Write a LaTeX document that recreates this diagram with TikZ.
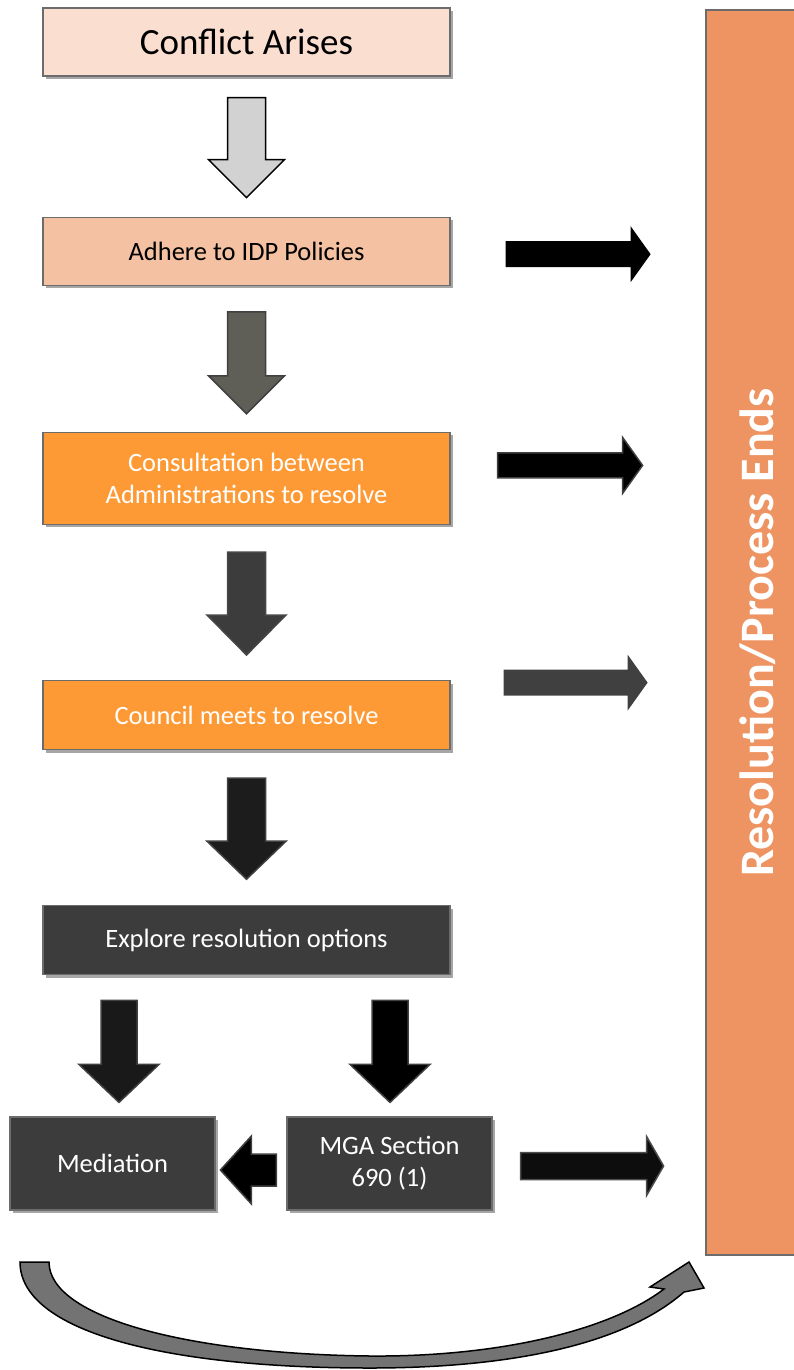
\documentclass[tikz,border=0pt]{standalone}
\usepackage{fontspec}
\setmainfont{Carlito}
\usetikzlibrary{positioning, calc, shadows}

\definecolor{conflictfill}{HTML}{FADFD0}
\definecolor{idpfill}{HTML}{F4C2A2}
\definecolor{orangefill}{HTML}{FD9A35}
\definecolor{darkfill}{HTML}{3C3C3C}
\definecolor{slatefill}{HTML}{5F5F58}
\definecolor{endfill}{HTML}{EE9462}
\definecolor{curvefill}{HTML}{737373}

\begin{document}
\begin{tikzpicture}[
    x=1pt, y=-1pt,
    stepbox/.style={rectangle, draw=gray!85!black, line width=1.2pt, align=center, font=\fontsize{26.5}{32}\selectfont, minimum width=407pt, minimum height=68pt, inner sep=0pt, drop shadow={shadow xshift=3pt, shadow yshift=-3pt, fill=gray, opacity=0.7}},
    darkbox/.style={stepbox, fill=darkfill, text=white},
    endbox/.style={rectangle, draw=gray!85!black, line width=1.2pt, fill=endfill, text=white, font=\fontsize{48}{56}\selectfont\bfseries, minimum width=1245pt, minimum height=104pt, rotate=90},
    arrlen/.store in=\arrlen, shaftw/.store in=\shaftw,
    headw/.store in=\headw, headl/.store in=\headl,
    arrlen=100, shaftw=19, headw=38, headl=38,
    blockarrow/.pic={
        \path[pic actions] (0,-\shaftw) -- (\arrlen-\headl,-\shaftw) -- (\arrlen-\headl,-\headw)
            -- (\arrlen,0) -- (\arrlen-\headl,\headw) -- (\arrlen-\headl,\shaftw) -- (0,\shaftw) -- cycle;
    },
    downarr/.style={rotate=-90, line width=1.5pt},
    sidearr/.style={arrlen=145, shaftw=13, headw=28, headl=20, line width=1pt}
]
    \useasboundingbox (0,0) rectangle (794,1370);

    % Main column of steps
    \node[stepbox, fill=conflictfill, font=\fontsize{37}{44}\selectfont] (conflict) at (246.5,42) {Conflict Arises};
    \node[stepbox, fill=idpfill, below=140pt of conflict] (idp) {Adhere to IDP Policies};
    \node[stepbox, fill=orangefill, text=white, minimum height=92pt, below=146pt of idp] (cons) {Consultation between\\Administrations to resolve};
    \node[stepbox, fill=orangefill, text=white, minimum height=69pt, below=155pt of cons] (council) {Council meets to resolve};
    \node[darkbox, minimum height=69pt, below=155pt of council] (explore) {Explore resolution options};
    \node[darkbox, minimum width=205pt, minimum height=93pt] (med) at (112.5,1163.5) {Mediation};
    \node[darkbox, minimum width=205pt, minimum height=93pt] (mga) at (389.5,1163.5) {MGA Section\\690 (1)};

    % End of the process
    \node[endbox] (res) at (758,632.5) {Resolution/Process Ends};

    % Downward block arrows
    \pic[downarr, fill=gray!35, draw=black] at ($(conflict.south)+(0,21)$) {blockarrow};
    \pic[downarr, fill=slatefill, draw=black!75, arrlen=102] at ($(idp.south)+(0,26)$) {blockarrow};
    \pic[downarr, fill=darkfill, draw=black!72, arrlen=103, headw=39.5, headl=40] at ($(cons.south)+(0,27)$) {blockarrow};
    \pic[downarr, fill=black!89, draw=black!75, arrlen=101, headw=39.5] at ($(council.south)+(0,28)$) {blockarrow};
    \pic[downarr, fill=black!90, draw=black!75, arrlen=102, shaftw=18, headw=40] at ($(explore.south -| med.north)+(6.5,25)$) {blockarrow};
    \pic[downarr, fill=black, draw=black!75, arrlen=102, shaftw=18, headw=40] at ($(explore.south -| mga.north)+(0.5,25)$) {blockarrow};

    % Block arrows to the end box
    \pic[sidearr, fill=black] at ($(idp.east)+(55,3)$) {blockarrow};
    \pic[sidearr, fill=black, draw=black!75, shaftw=12.5, line width=1.5pt] at ($(cons.east)+(47,-13)$) {blockarrow};
    \pic[sidearr, fill=black!75, arrlen=144] at ($(council.east)+(53,-32.5)$) {blockarrow};
    \pic[sidearr, fill=black!95, draw=black!70, arrlen=143, shaftw=13.5, headw=29.5, headl=17, line width=1.5pt] at ($(mga.east)+(28,2.5)$) {blockarrow};
    \pic[fill=black, draw=black!75, line width=1.5pt, rotate=180, arrlen=56, shaftw=16, headw=34, headl=31] at ($(mga.west)+(-10,6.5)$) {blockarrow};

    % Curved arrow from mediation round to the end box
    \draw[line width=1.5pt, fill=curvefill] (20,1262) -- (49,1262)
        .. controls (49,1318) and (190,1354) .. (370,1356)
        .. controls (500,1357) and (610,1330) .. (664,1289)
        -- (650,1287) -- (689,1262) -- (704,1288) -- (684,1292)
        .. controls (620,1348) and (500,1368) .. (370,1368)
        .. controls (160,1368) and (20,1330) .. (20,1262) -- cycle;
\end{tikzpicture}
\end{document}
